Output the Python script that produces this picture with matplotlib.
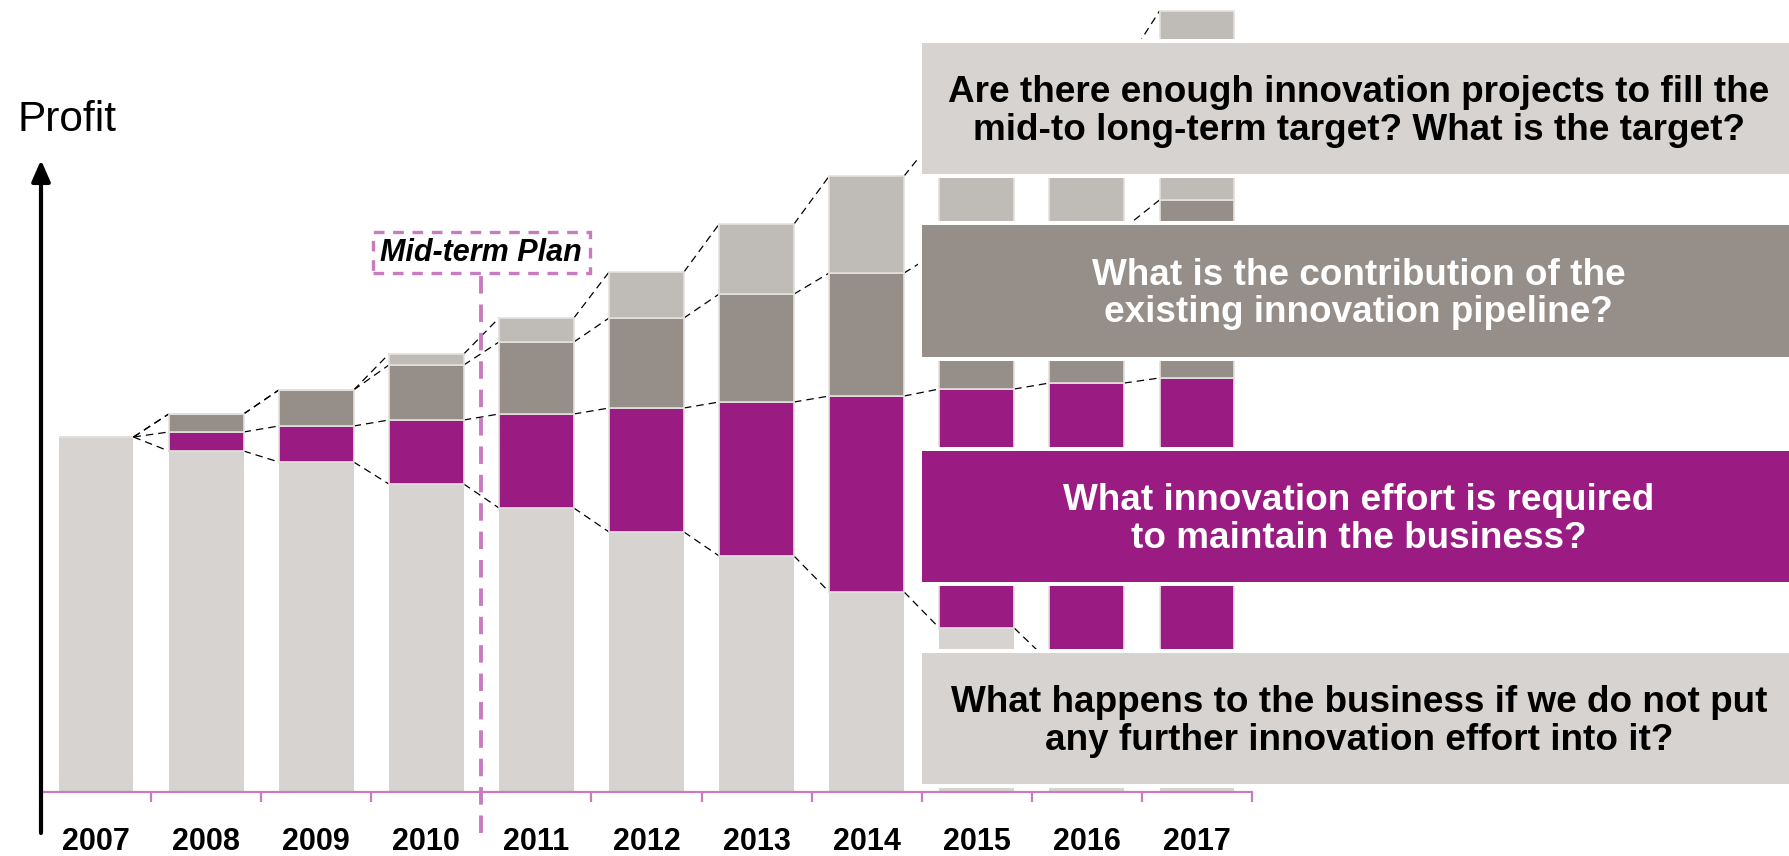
import numpy as np
import matplotlib.pyplot as plt
from matplotlib.patches import Rectangle

plt.rcParams['font.family'] = ['Liberation Sans', 'DejaVu Sans']

years = ['2007', '2008', '2009', '2010', '2011', '2012',
         '2013', '2014', '2015', '2016', '2017']
# profit split into layers, stacked from the bottom
base_business = [355, 341, 330, 308, 284, 260, 236, 200, 164, 130, 97]
maintain_effort = [0, 19, 36, 64, 94, 124, 154, 196, 239, 279, 317]
pipeline = [0, 18, 36, 55, 72, 90, 108, 123, 138, 155, 178]
target_gap = [0, 0, 0, 11, 24, 46, 70, 97, 119, 162, 189]

questions = [
    "Are there enough innovation projects to fill the\n"
    "mid-to long-term target? What is the target?",
    "What is the contribution of the\nexisting innovation pipeline?",
    "What innovation effort is required\nto maintain the business?",
    "What happens to the business if we do not put\n"
    "any further innovation effort into it?",
]
plan_label = "Mid-term Plan"
plan_split = 3.5

light = '#d7d3d0'
dark = '#968e88'
pale = '#bfbbb6'
purple = '#9a1c83'
pink = '#c87bbf'

fig = plt.figure(figsize=(17.9, 8.56), dpi=100)
W, H = 1790, 856
ax = fig.add_axes([41 / W, 64 / H, (1252 - 41) / W, 792 / H])
ax.set_xlim(-0.5, 10.5)
ax.set_ylim(0, 792)

x = np.arange(len(years))
bw = 0.68
layers = [base_business, maintain_effort, pipeline, target_gap]
colors = [light, purple, dark, pale]
bottom = np.zeros(len(years))
for vals, col in zip(layers, colors):
    vals = np.array(vals, dtype=float)
    ax.bar(x, vals, bw, bottom=bottom, color=col,
           edgecolor='#e4e0dd' if col != light else 'none',
           linewidth=1.2, zorder=2)
    bottom += vals

# dashed connectors between the layer boundaries of neighbouring bars
levels = np.cumsum(np.array(layers, dtype=float), axis=0)
for lev in levels:
    for i in range(len(x) - 1):
        ax.plot([x[i] + bw / 2, x[i + 1] - bw / 2], [lev[i], lev[i + 1]],
                color='black', lw=0.9, dashes=(6, 4), zorder=1)

# question boxes on the right
box_y = [(618, 749), (435, 567), (210, 341), (8, 139)]
box_fc = [light, dark, purple, light]
box_tc = ['black', 'white', 'white', 'black']
for (y0, y1), fc, tc, q in zip(box_y, box_fc, box_tc, questions):
    ax.add_patch(Rectangle((7.5 - 0.036, y0 - 4), 9, y1 - y0 + 8,
                           fc='white', ec='none', zorder=4, clip_on=False))
    ax.add_patch(Rectangle((7.5, y0), 9, y1 - y0, fc=fc, ec='none',
                           zorder=5, clip_on=False))
    ax.text(11.47, (y0 + y1) / 2 - 3, q, ha='center', va='center',
            fontsize=26.6, fontweight='bold', color=tc, linespacing=1.1,
            zorder=6, clip_on=False)

# mid-term plan marker
ax.plot([plan_split, plan_split], [-41, 519], color=pink, lw=2.8,
        dashes=(4.5, 2.8), zorder=3, clip_on=False)
ax.add_patch(Rectangle((plan_split - 0.985, 519), 1.97, 41, fc='white',
                       ec=pink, lw=2.4, ls=(0, (3.2, 2.6)), zorder=3,
                       clip_on=False))
ax.text(plan_split, 539, plan_label, ha='center', va='center', fontsize=22,
        fontweight='bold', fontstyle='italic', zorder=4)

# profit axis arrow
ax.annotate('', xy=(-0.5, 632), xytext=(-0.5, -41),
            arrowprops=dict(arrowstyle='-|>,head_length=0.8,head_width=0.35',
                            lw=3, color='black', mutation_scale=16,
                            shrinkA=0, shrinkB=0),
            annotation_clip=False)
fig.text(18 / W, 1 - 120 / H, 'Profit', fontsize=30.5, va='center', ha='left')

for side in ['left', 'right', 'top']:
    ax.spines[side].set_visible(False)
ax.spines['bottom'].set_color(pink)
ax.spines['bottom'].set_linewidth(1.6)
ax.set_yticks([])
ax.set_xticks(x)
ax.set_xticklabels(years, fontsize=22, fontweight='bold')
ax.tick_params(axis='x', which='major', length=0, pad=25)
ax.set_xticks(x + 0.5, minor=True)
ax.tick_params(axis='x', which='minor', length=7.5, width=1.6, color=pink,
               direction='out')

fig.savefig('out.png', dpi=100)
